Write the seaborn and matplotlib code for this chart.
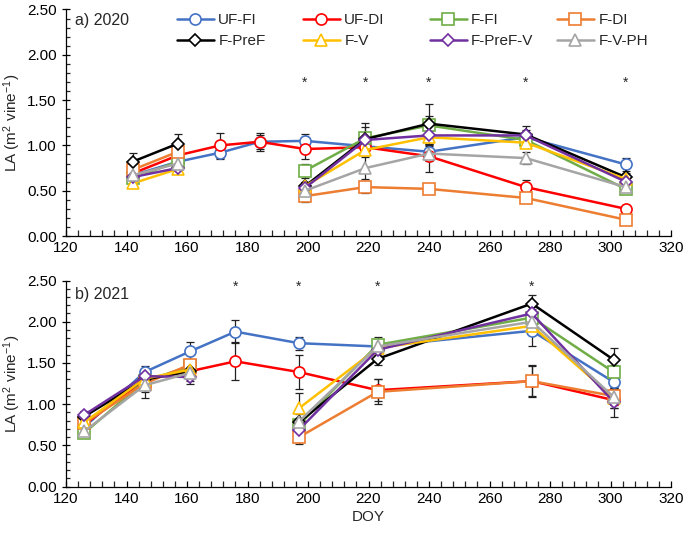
import numpy as np
import pandas as pd
import matplotlib
matplotlib.use('Agg')
import matplotlib.pyplot as plt
from matplotlib.ticker import MultipleLocator
import seaborn as sns

# treatments, colours and markers
names = ['UF-FI', 'UF-DI', 'F-FI', 'F-DI', 'F-PreF', 'F-V', 'F-PreF-V', 'F-V-PH']
colors = ['#4472C4', '#FF0000', '#70AD47', '#ED7D31', '#000000', '#FFC000', '#7030A0', '#A5A5A5']
markers = ['o', 'o', 's', 's', 'D', '^', 'D', '^']

# 2020 data (DOY)
doy20_uf = [142, 157, 171, 184, 199, 219, 240, 272, 305]
doy20_f = [142, 157, 199, 219, 240, 272, 305]
la20 = {
    'UF-FI': [0.67, 0.82, 0.92, 1.04, 1.05, 0.99, 0.93, 1.09, 0.79],
    'UF-DI': [0.69, 0.89, 1.00, 1.04, 0.96, 0.98, 0.88, 0.54, 0.30],
    'F-FI': [0.64, 0.82, 0.72, 1.08, 1.22, 1.06, 0.52],
    'F-DI': [0.73, 0.93, 0.44, 0.54, 0.52, 0.42, 0.18],
    'F-PreF': [0.82, 1.02, 0.55, 1.07, 1.24, 1.12, 0.65],
    'F-V': [0.58, 0.74, 0.55, 0.95, 1.09, 1.03, 0.63],
    'F-PreF-V': [0.65, 0.75, 0.53, 1.06, 1.11, 1.11, 0.60],
    'F-V-PH': [0.67, 0.80, 0.50, 0.75, 0.91, 0.86, 0.54],
}
se20 = {
    'UF-FI': [0.04, 0.05, 0.07, 0.08, 0.08, 0.05, 0.07, 0.06, 0.07],
    'UF-DI': [0.05, 0.06, 0.14, 0.10, 0.11, 0.06, 0.17, 0.08, 0.03],
    'F-FI': [0.05, 0.05, 0.08, 0.12, 0.10, 0.05, 0.04],
    'F-DI': [0.06, 0.06, 0.06, 0.07, 0.05, 0.04, 0.03],
    'F-PreF': [0.10, 0.11, 0.05, 0.18, 0.22, 0.09, 0.05],
    'F-V': [0.04, 0.05, 0.05, 0.06, 0.07, 0.05, 0.04],
    'F-PreF-V': [0.04, 0.05, 0.05, 0.07, 0.06, 0.06, 0.05],
    'F-V-PH': [0.04, 0.06, 0.05, 0.12, 0.08, 0.07, 0.04],
}
stars20 = [199, 219, 240, 272, 305]

# 2021 data (DOY)
doy21_uf = [126, 146, 161, 176, 197, 223, 274, 301]
doy21_f = [126, 146, 161, 197, 223, 274, 301]
la21 = {
    'UF-FI': [0.72, 1.39, 1.64, 1.88, 1.74, 1.70, 1.89, 1.27],
    'UF-DI': [0.75, 1.30, 1.40, 1.52, 1.39, 1.17, 1.28, 1.05],
    'F-FI': [0.65, 1.28, 1.46, 0.75, 1.72, 2.05, 1.39],
    'F-DI': [0.77, 1.25, 1.48, 0.60, 1.15, 1.28, 1.10],
    'F-PreF': [0.85, 1.30, 1.40, 0.78, 1.55, 2.22, 1.54],
    'F-V': [0.78, 1.31, 1.42, 0.95, 1.68, 1.95, 1.08],
    'F-PreF-V': [0.87, 1.34, 1.33, 0.69, 1.66, 2.10, 1.03],
    'F-V-PH': [0.67, 1.23, 1.38, 0.79, 1.70, 2.00, 1.09],
}
se21 = {
    'UF-FI': [0.05, 0.07, 0.12, 0.14, 0.08, 0.06, 0.19, 0.10],
    'UF-DI': [0.05, 0.08, 0.08, 0.23, 0.21, 0.13, 0.18, 0.10],
    'F-FI': [0.04, 0.06, 0.07, 0.08, 0.09, 0.10, 0.08],
    'F-DI': [0.05, 0.10, 0.06, 0.08, 0.15, 0.19, 0.10],
    'F-PreF': [0.05, 0.08, 0.07, 0.10, 0.08, 0.10, 0.14],
    'F-V': [0.05, 0.08, 0.07, 0.18, 0.07, 0.10, 0.12],
    'F-PreF-V': [0.05, 0.08, 0.08, 0.10, 0.08, 0.10, 0.18],
    'F-V-PH': [0.04, 0.16, 0.10, 0.10, 0.07, 0.10, 0.10],
}
stars21 = [176, 197, 223, 274]

# fertigated treatments have a break in the line (no sampling between these dates)
f_break20 = 2
f_break21 = 3

sns.set_style('ticks')
plt.rcParams['font.family'] = ['Liberation Sans', 'DejaVu Sans']
plt.rcParams['mathtext.fontset'] = 'custom'
plt.rcParams['mathtext.rm'] = 'Liberation Sans'
plt.rcParams['mathtext.it'] = 'Liberation Sans:italic'
plt.rcParams['font.size'] = 11

fig = plt.figure(figsize=(6.85, 5.35), dpi=100)
ax1 = fig.add_axes([66 / 685, 1 - 236 / 535, 605 / 685, 226.5 / 535])
ax2 = fig.add_axes([66 / 685, 1 - 486.7 / 535, 605 / 685, 206.2 / 535])


def draw_panel(ax, doy_uf, doy_f, la, se, brk, stars, star_y, title, title_y):
    for name in names:
        x = doy_uf if name.startswith('UF') else doy_f
        ax.errorbar(x, la[name], yerr=se[name], fmt='none', ecolor='#222222',
                    elinewidth=0.9, capsize=3, capthick=0.9, zorder=1)
    for name, c, m in zip(names, colors, markers):
        x = doy_uf if name.startswith('UF') else doy_f
        y = la[name]
        if name.startswith('UF'):
            parts = [(x, y)]
        else:
            parts = [(x[:brk], y[:brk]), (x[brk:], y[brk:])]
        for k, (xs, ys) in enumerate(parts):
            sns.lineplot(x=xs, y=ys, ax=ax, color=c, marker=m, lw=1.8,
                         ms=8 if m != 'D' else 6.5, mfc='white', mec=c, mew=1.2,
                         label=name if k == 0 else '_nolegend_', zorder=2)
    for s in stars:
        ax.text(s, star_y, '*', ha='center', va='center', fontsize=10)
    ax.text(0.015, title_y, title, transform=ax.transAxes, fontsize=11.5,
            ha='left', va='center')
    ax.set_xlim(120, 320)
    ax.set_ylim(0, 2.5)
    ax.xaxis.set_major_locator(MultipleLocator(20))
    ax.xaxis.set_minor_locator(MultipleLocator(4))
    ax.yaxis.set_major_locator(MultipleLocator(0.5))
    ax.yaxis.set_minor_locator(MultipleLocator(0.1))
    ax.yaxis.set_major_formatter(matplotlib.ticker.FormatStrFormatter('%.2f'))
    ax.tick_params(axis='x', which='both', direction='in', length=4, width=0.9)
    ax.tick_params(axis='y', which='major', direction='inout', length=6, width=0.9)
    ax.tick_params(axis='y', which='minor', direction='in', length=3, width=0.9)
    ax.tick_params(labelsize=11, colors='black')
    for sp in ['top', 'right']:
        ax.spines[sp].set_visible(False)
    for sp in ['left', 'bottom']:
        ax.spines[sp].set_linewidth(0.9)
        ax.spines[sp].set_color('black')
    ax.set_ylabel(r'LA (m$^2$ vine$^{-1}$)', fontsize=11, labelpad=3)
    ax.set_xlabel('')


draw_panel(ax1, doy20_uf, doy20_f, la20, se20, f_break20, stars20, 1.69, 'a) 2020', 0.953)
draw_panel(ax2, doy21_uf, doy21_f, la21, se21, f_break21, stars21, 2.42, 'b) 2021', 0.93)
ax2.set_xlabel('DOY', fontsize=11, labelpad=3)

handles, labels = ax1.get_legend_handles_labels()
ax1.get_legend().remove()
ax2.get_legend().remove()

col_x = [177, 303, 430, 557]
for i, x0 in enumerate(col_x):
    hs = [handles[i], handles[i + 4]]
    ls = [labels[i], labels[i + 4]]
    fig.legend(hs, ls, loc='upper left', bbox_to_anchor=(x0 / 685, 1 - 13 / 535),
               frameon=False, borderpad=0, borderaxespad=0, handlelength=2.4,
               handletextpad=0.3, labelspacing=0.45, fontsize=11)

fig.savefig('out.png', dpi=100)
